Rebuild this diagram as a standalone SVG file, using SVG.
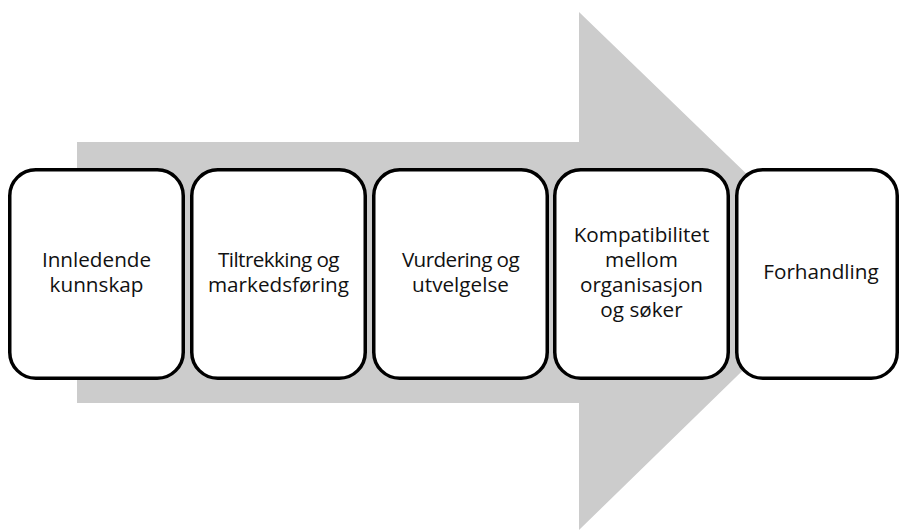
<svg xmlns="http://www.w3.org/2000/svg" width="900" height="531" viewBox="0 0 900 531">
<style>
.box{fill:#ffffff;stroke:#000000;stroke-width:3.5}
.t{font-family:"Open Sans","Liberation Sans",sans-serif;font-size:20.7px;fill:#111111;text-anchor:middle}
</style>
<rect width="900" height="531" fill="#ffffff"/>
<g id="arrow">
<polygon points="77,142 579,142 579,12 846,270 579,530 579,403 77,403" fill="#cccccc"/>
</g>
<g id="connectors"></g>
<g id="n1">
<rect class="box" x="9.75" y="169.75" width="173.5" height="208.5" rx="26"/>
<text class="t"><tspan x="96.5" y="267">Innledende</tspan><tspan x="96.5" dy="25">kunnskap</tspan></text>
</g>
<g id="n2">
<rect class="box" x="191.75" y="169.75" width="173.5" height="208.5" rx="26"/>
<text class="t"><tspan x="278.5" y="267" letter-spacing="-0.6">Tiltrekking og</tspan><tspan x="278.5" dy="25">markedsføring</tspan></text>
</g>
<g id="n3">
<rect class="box" x="373.75" y="169.75" width="173.5" height="208.5" rx="26"/>
<text class="t"><tspan x="460.5" y="267" letter-spacing="-0.6">Vurdering og</tspan><tspan x="460.5" dy="25">utvelgelse</tspan></text>
</g>
<g id="n4">
<rect class="box" x="554.75" y="169.75" width="173.5" height="208.5" rx="26"/>
<text class="t"><tspan x="641.5" y="242">Kompatibilitet</tspan><tspan x="641.5" dy="25">mellom</tspan><tspan x="641.5" dy="25">organisasjon</tspan><tspan x="641.5" dy="25">og søker</tspan></text>
</g>
<g id="n5">
<rect class="box" x="736.75" y="169.75" width="160.5" height="208.5" rx="26"/>
<text class="t" x="821" y="279">Forhandling</text>
</g>
</svg>
